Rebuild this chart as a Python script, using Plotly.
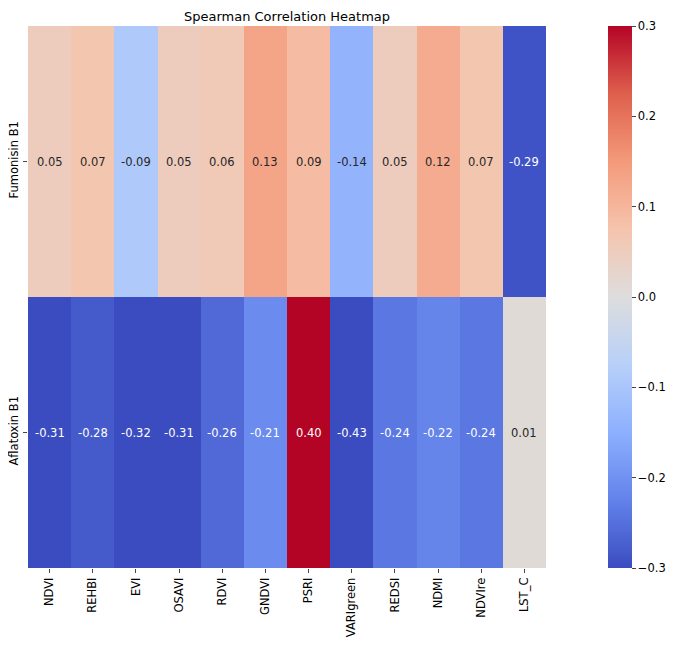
import plotly.graph_objects as go

indices = ["NDVI", "REHBI", "EVI", "OSAVI", "RDVI", "GNDVI", "PSRI",
           "VARIgreen", "REDSI", "NDMI", "NDVIre", "LST_C"]
toxins = ["Fumonisin B1", "Aflatoxin B1"]
fumonisin = [0.05, 0.07, -0.09, 0.05, 0.06, 0.13, 0.09, -0.14, 0.05, 0.12, 0.07, -0.29]
aflatoxin = [-0.31, -0.28, -0.32, -0.31, -0.26, -0.21, 0.40, -0.43, -0.24, -0.22, -0.24, 0.01]
z = [fumonisin, aflatoxin]

# matplotlib "coolwarm"
coolwarm = [
    [0.0, "rgb(59,76,192)"], [0.125, "rgb(98,130,234)"], [0.25, "rgb(141,176,254)"],
    [0.375, "rgb(184,208,249)"], [0.5, "rgb(221,221,221)"], [0.625, "rgb(245,196,173)"],
    [0.75, "rgb(244,154,123)"], [0.875, "rgb(222,96,77)"], [1.0, "rgb(180,4,38)"],
]

fig = go.Figure(go.Heatmap(
    z=z, x=indices, y=toxins, zmin=-0.3, zmax=0.3, colorscale=coolwarm,
    xgap=0, ygap=0,
    colorbar=dict(x=1.12, xanchor="left", xpad=0, y=0.5, len=1, lenmode="fraction", ypad=0,
                  thickness=24, outlinewidth=0, ticks="outside", ticklen=4,
                  tickvals=[-0.3, -0.2, -0.1, 0, 0.1, 0.2, 0.3],
                  ticktext=["\u22120.3", "\u22120.2", "\u22120.1", "0.0", "0.1", "0.2", "0.3"],
                  tickfont=dict(size=11.5)),
))

for r, row in enumerate(z):
    for c, v in enumerate(row):
        fig.add_annotation(x=indices[c], y=toxins[r], text=f"{v:.2f}", showarrow=False,
                           font=dict(size=11.5, color="white" if abs(v) > 0.18 else "#262626"))

# page body has an 8px margin, so the figure is 672x640
fig.update_layout(
    width=672, height=640,
    title=dict(text="Spearman Correlation Heatmap", x=0.5, xref="paper", y=1 - 8 / 640,
               yanchor="middle", font=dict(size=13, color="black"), automargin=False),
    font=dict(family="DejaVu Sans", color="black", size=11.5),
    margin=dict(l=20, r=134, t=18, b=80, autoexpand=False),
    plot_bgcolor="white", paper_bgcolor="white",
    xaxis=dict(tickangle=-90, ticks="outside", ticklen=4, showgrid=False, zeroline=False,
               automargin=False),
    yaxis=dict(autorange="reversed", tickangle=-90, ticks="outside", ticklen=4,
               showgrid=False, zeroline=False, automargin=False),
)

fig.write_html("out.html")
